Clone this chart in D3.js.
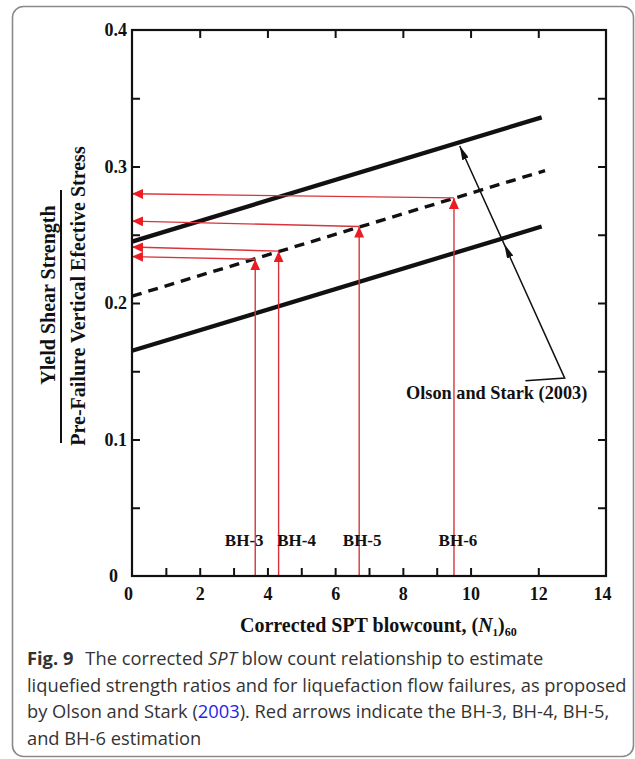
<!DOCTYPE html>
<html>
<head>
<meta charset="utf-8">
<script src="https://cdn.jsdelivr.net/npm/d3@7"></script>
<style>
  html, body { margin: 0; padding: 0; background: #fff; }
  svg { display: block; }
  .serif { font-family: "Liberation Serif", "Times New Roman", serif; }
  .caption { font-family: "Open Sans", "Noto Sans", sans-serif; fill: #333; }
</style>
</head>
<body>
<svg id="chart" width="635" height="759"></svg>
<script>
// Axis extents and tick positions
const xDomain = [0, 14];
const yDomain = [0, 0.4];
const xTicksBottom = [1, 2, 3, 4, 5, 6, 7, 8, 9, 10, 12];
const xTicksTop = [2, 4, 6, 8, 10, 12];
const xTickLabels = [0, 2, 4, 6, 8, 10, 12, 14];
const yTicks = [0.05, 0.1, 0.15, 0.2, 0.25, 0.3, 0.35];
const yTickLabels = [0, 0.1, 0.2, 0.3, 0.4];

// Olson and Stark (2003) relationship: upper bound, trend, lower bound
const upperBound = [[0, 0.245], [12.1, 0.336]];
const trendLine = [[0, 0.205], [12.2, 0.297]];
const lowerBound = [[0, 0.165], [12.1, 0.256]];

// Borehole estimates: (N1)60 and yield strength ratio read from the trend
const boreholes = ["BH-3", "BH-4", "BH-5", "BH-6"];
const bhN60 = [3.64, 4.33, 6.71, 9.51];
const bhRatioAtTrend = [0.232, 0.238, 0.256, 0.277];
const bhRatioAtAxis = [0.234, 0.241, 0.260, 0.280];

// Leader for the "Olson and Stark (2003)" note
const noteLeader = [[11.62, 0.143], [12.78, 0.145], [9.68, 0.315]];
const noteSecondHead = [11.0, 0.243];
const noteText = "Olson and Stark (2003)";

// Layout
const plot = { left: 132, right: 606, top: 30, bottom: 576 };
const bhLabelDx = [-11, 18, 3, 4];
const tickLen = 8;

const svg = d3.select("#chart");

// Outer rounded frame
svg.append("rect")
  .attr("x", 12.5).attr("y", 6.5)
  .attr("width", 621).attr("height", 750)
  .attr("rx", 11)
  .attr("fill", "none")
  .attr("stroke", "#8a8a8a")
  .attr("stroke-width", 1.6);

const x = d3.scaleLinear().domain(xDomain).range([plot.left, plot.right]);
const y = d3.scaleLinear().domain(yDomain).range([plot.bottom, plot.top]);

// Arrowhead markers
const defs = svg.append("defs");
defs.append("marker")
  .attr("id", "redHead")
  .attr("markerUnits", "userSpaceOnUse")
  .attr("viewBox", "0 0 11 10")
  .attr("refX", 11).attr("refY", 5)
  .attr("markerWidth", 11).attr("markerHeight", 10)
  .attr("orient", "auto")
  .append("path")
  .attr("d", "M0,0 L11,5 L0,10 Z")
  .attr("fill", "#ec1c24");
defs.append("marker")
  .attr("id", "blackHead")
  .attr("markerUnits", "userSpaceOnUse")
  .attr("viewBox", "0 0 14 7")
  .attr("refX", 14).attr("refY", 3.5)
  .attr("markerWidth", 14).attr("markerHeight", 7)
  .attr("orient", "auto")
  .append("path")
  .attr("d", "M0,0 L14,3.5 L0,7 Z")
  .attr("fill", "#111");

const line = d3.line().x(d => x(d[0])).y(d => y(d[1]));

// Relationship lines
svg.append("path").attr("d", line(upperBound))
  .attr("fill", "none").attr("stroke", "#111").attr("stroke-width", 4.3);
svg.append("path").attr("d", line(lowerBound))
  .attr("fill", "none").attr("stroke", "#111").attr("stroke-width", 4.3);
svg.append("path").attr("d", line(trendLine))
  .attr("fill", "none").attr("stroke", "#111").attr("stroke-width", 3.4)
  .attr("stroke-dasharray", "10,7");

// Borehole arrows: up from the N60 axis to the trend, then across to the ratio axis
const bh = svg.append("g").attr("class", "boreholes");
boreholes.forEach((name, i) => {
  bh.append("path")
    .attr("d", line([[bhN60[i], 0], [bhN60[i], bhRatioAtTrend[i]]]))
    .attr("fill", "none").attr("stroke", "#d9343b").attr("stroke-width", 1.4)
    .attr("marker-end", "url(#redHead)");
  bh.append("path")
    .attr("d", line([[bhN60[i], bhRatioAtTrend[i]], [0, bhRatioAtAxis[i]]]))
    .attr("fill", "none").attr("stroke", "#d9343b").attr("stroke-width", 1.4)
    .attr("marker-end", "url(#redHead)");
  bh.append("text")
    .attr("class", "serif")
    .attr("x", x(bhN60[i]) + bhLabelDx[i])
    .attr("y", 546)
    .attr("text-anchor", "middle")
    .attr("font-size", 17)
    .attr("font-weight", "bold")
    .attr("fill", "#111")
    .text(name);
});

// Note leader with arrowheads onto both bounds
svg.append("path").attr("d", line(noteLeader))
  .attr("fill", "none").attr("stroke", "#111").attr("stroke-width", 1.5)
  .attr("marker-end", "url(#blackHead)");
svg.append("path").attr("d", line([noteLeader[1], noteSecondHead]))
  .attr("fill", "none").attr("stroke", "none")
  .attr("marker-end", "url(#blackHead)");
svg.append("text")
  .attr("class", "serif")
  .attr("x", 406).attr("y", 399)
  .attr("font-size", 18.3).attr("font-weight", "bold").attr("fill", "#111")
  .text(noteText);

// Plot frame
svg.append("rect")
  .attr("x", plot.left).attr("y", plot.top)
  .attr("width", plot.right - plot.left).attr("height", plot.bottom - plot.top)
  .attr("fill", "none").attr("stroke", "#111").attr("stroke-width", 2.2);

// Inward tick marks on all four sides
function ticksOnly(axis, values, transform) {
  const g = svg.append("g").attr("transform", transform)
    .call(axis.tickValues(values).tickSize(tickLen).tickFormat(""));
  g.select(".domain").remove();
  g.selectAll(".tick line").attr("stroke", "#111").attr("stroke-width", 2);
  return g;
}
ticksOnly(d3.axisTop(x), xTicksBottom, `translate(0,${plot.bottom})`);
ticksOnly(d3.axisBottom(x), xTicksTop, `translate(0,${plot.top})`);
ticksOnly(d3.axisRight(y), yTicks, `translate(${plot.left},0)`);
ticksOnly(d3.axisLeft(y), yTicks, `translate(${plot.right},0)`);

// Tick labels
const fmtY = v => v === 0 ? "0" : d3.format(".1f")(v);
const gx = svg.append("g").attr("transform", `translate(0,${plot.bottom})`)
  .call(d3.axisBottom(x).tickValues(xTickLabels).tickSize(0).tickPadding(11).tickFormat(d3.format("d")));
gx.select(".domain").remove();
gx.selectAll("text").attr("class", "serif").attr("font-size", 18)
  .attr("font-weight", "bold").attr("fill", "#111")
  .attr("dx", d => d === 0 ? -4 : (d === 14 ? -4 : 0));

const gy = svg.append("g").attr("transform", `translate(${plot.left},0)`)
  .call(d3.axisLeft(y).tickValues(yTickLabels).tickSize(0).tickPadding(5).tickFormat(fmtY));
gy.select(".domain").remove();
gy.selectAll("text").attr("class", "serif").attr("font-size", 18)
  .attr("font-weight", "bold").attr("fill", "#111")
  .attr("dx", d => d === 0 ? -9 : 0);

// Axis titles
const xt = svg.append("text").attr("class", "serif")
  .attr("x", 240).attr("y", 632)
  .attr("font-size", 20).attr("font-weight", "bold").attr("fill", "#111");
xt.append("tspan").text("Corrected SPT blowcount, (");
xt.append("tspan").attr("font-style", "italic").text("N");
xt.append("tspan").attr("font-size", 11).attr("dy", 4).text("1");
xt.append("tspan").attr("dy", -4).text(")");
xt.append("tspan").attr("font-size", 12).attr("dy", 4).text("60");

const yt = svg.append("g");
yt.append("text").attr("class", "serif")
  .attr("transform", "translate(55,295) rotate(-90)")
  .attr("text-anchor", "middle")
  .attr("font-size", 20).attr("font-weight", "bold").attr("fill", "#111")
  .text("Yleld Shear Strength");
yt.append("line")
  .attr("x1", 61).attr("x2", 61).attr("y1", 190).attr("y2", 443)
  .attr("stroke", "#111").attr("stroke-width", 2);
yt.append("text").attr("class", "serif")
  .attr("transform", "translate(85,296) rotate(-90)")
  .attr("text-anchor", "middle")
  .attr("font-size", 20).attr("font-weight", "bold").attr("fill", "#111")
  .text("Pre-Failure Vertical Efective Stress");

// Figure caption
const capLines = [
  [{ t: "Fig. 9", w: "bold" }, { t: "The corrected ", dx: 12 }, { t: "SPT", s: "italic" }, { t: " blow count relationship to estimate" }],
  [{ t: "liquefied strength ratios and for liquefaction flow failures, as proposed" }],
  [{ t: "by Olson and Stark (" }, { t: "2003", c: "#2323e8" }, { t: "). Red arrows indicate the BH-3, BH-4, BH-5," }],
  [{ t: "and BH-6 estimation" }]
];
const capBase = [665, 691.5, 718, 744.5];
capLines.forEach((parts, i) => {
  const t = svg.append("text").attr("class", "caption")
    .attr("x", 27).attr("y", capBase[i]).attr("font-size", 18.3);
  parts.forEach(p => {
    const s = t.append("tspan").text(p.t);
    if (p.w) s.attr("font-weight", p.w);
    if (p.s) s.attr("font-style", p.s);
    if (p.c) s.attr("fill", p.c);
    if (p.dx) s.attr("dx", p.dx);
  });
});
</script>
</body>
</html>
